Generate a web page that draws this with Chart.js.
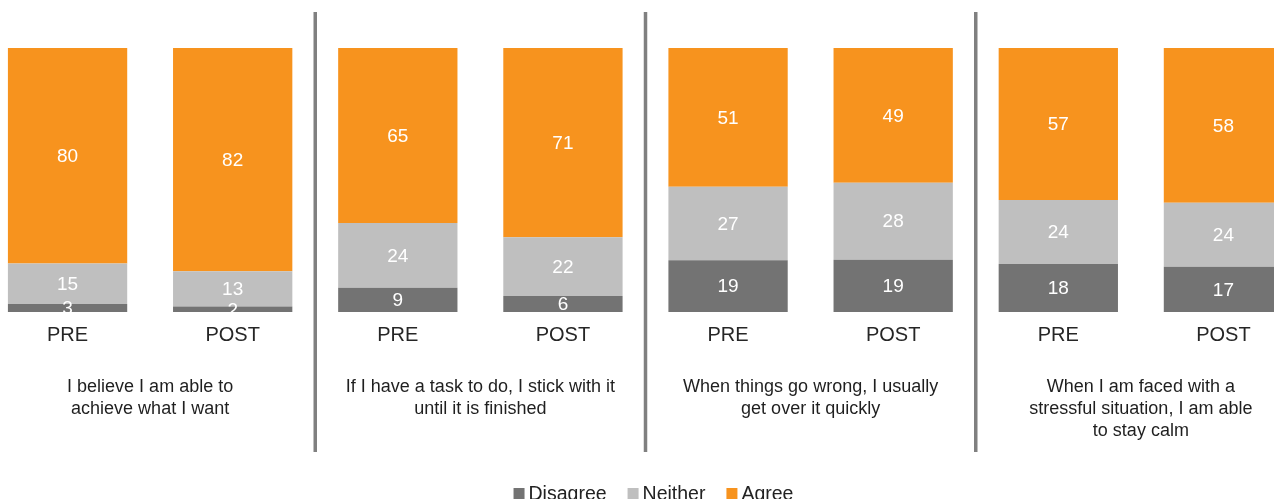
<!DOCTYPE html>
<html>
<head>
<meta charset="utf-8">
<script src="https://cdn.jsdelivr.net/npm/chart.js@4/dist/chart.umd.min.js"></script>
<style>
  html, body { margin: 0; padding: 0; background: #ffffff; overflow: hidden; width: 1274px; height: 499px; }
  #wrap { position: absolute; left: -15px; top: 0; width: 1321px; height: 512px; }
</style>
</head>
<body>
<div id="wrap"><canvas id="c"></canvas></div>
<script>
// ---- data ----
const categories = ['PRE', 'POST', 'PRE', 'POST', 'PRE', 'POST', 'PRE', 'POST'];
const groupLabels = [
  ['I believe I am able to', 'achieve what I want'],
  ['If I have a task to do, I stick with it', 'until it is finished'],
  ['When things go wrong, I usually', 'get over it quickly'],
  ['When I am faced with a', 'stressful situation, I am able', 'to stay calm']
];
const seriesNames = ['Disagree', 'Neither', 'Agree'];
const disagree = [3, 2, 9, 6, 19, 19, 18, 17];
const neither  = [15, 13, 24, 22, 27, 28, 24, 24];
const agree    = [80, 82, 65, 71, 51, 49, 57, 58];
const seriesColors = ['#737373', '#bfbfbf', '#f7931e'];

const FONT = '"Liberation Sans", Arial, sans-serif';
const raw = [disagree, neither, agree];
const totals = categories.map((_, i) => disagree[i] + neither[i] + agree[i]);
const pct = raw.map(arr => arr.map((v, i) => v / totals[i] * 100));

const datasets = raw.map((arr, k) => ({
  label: seriesNames[k],
  data: pct[k],
  rawValues: arr,
  backgroundColor: seriesColors[k],
  borderWidth: 0,
  categoryPercentage: 1,
  barPercentage: 0.7225
}));

const extrasPlugin = {
  id: 'extras',
  afterDatasetsDraw(chart) {
    const ctx = chart.ctx;
    ctx.save();
    ctx.fillStyle = '#ffffff';
    ctx.font = '19px ' + FONT;
    ctx.textAlign = 'center';
    ctx.textBaseline = 'middle';
    chart.data.datasets.forEach((ds, di) => {
      const meta = chart.getDatasetMeta(di);
      meta.data.forEach((el, i) => {
        const y = (el.y + el.base) / 2;
        ctx.fillText(String(ds.rawValues[i]), el.x, y + 1);
      });
    });
    ctx.restore();
  },
  afterDraw(chart) {
    const ctx = chart.ctx;
    const xs = chart.scales.x;
    ctx.save();
    // dividers between question groups
    ctx.strokeStyle = '#808080';
    ctx.lineWidth = 3.5;
    for (let g = 1; g < groupLabels.length; g++) {
      const x = (xs.getPixelForValue(2 * g - 1) + xs.getPixelForValue(2 * g)) / 2;
      ctx.beginPath();
      ctx.moveTo(x, 12);
      ctx.lineTo(x, 452);
      ctx.stroke();
    }
    // group labels
    ctx.fillStyle = '#1f1f1f';
    ctx.font = '18px ' + FONT;
    ctx.textAlign = 'center';
    ctx.textBaseline = 'middle';
    groupLabels.forEach((lines, g) => {
      const cx = (xs.getPixelForValue(2 * g) + xs.getPixelForValue(2 * g + 1)) / 2;
      lines.forEach((t, li) => ctx.fillText(t, cx, 387 + li * 22));
    });
    // legend
    ctx.font = '19.5px ' + FONT;
    ctx.textAlign = 'left';
    ctx.textBaseline = 'alphabetic';
    const box = 11, gapText = 4, gapItem = 21;
    const widths = seriesNames.map(n => box + gapText + ctx.measureText(n).width);
    const total = widths.reduce((a, b) => a + b, 0) + gapItem * (seriesNames.length - 1);
    const centerX = chart.width / 2 + 8;
    let x = centerX - total / 2;
    const baseY = 499.5;
    seriesNames.forEach((n, k) => {
      ctx.fillStyle = seriesColors[k];
      ctx.fillRect(x, 488, box, box);
      ctx.fillStyle = '#222222';
      ctx.fillText(n, x + box + gapText, baseY);
      x += widths[k] + gapItem;
    });
    ctx.restore();
  }
};

new Chart(document.getElementById('c'), {
  type: 'bar',
  data: { labels: categories, datasets },
  options: {
    responsive: true,
    maintainAspectRatio: false,
    animation: false,
    layout: { padding: { top: 48, left: 0, right: 0, bottom: 0 } },
    plugins: {
      legend: { display: false },
      tooltip: { enabled: false }
    },
    scales: {
      x: {
        stacked: true,
        grid: { display: false, drawTicks: false },
        border: { display: false },
        ticks: { color: '#262626', font: { size: 20, family: FONT }, padding: 11 },
        afterFit(scale) { scale.height = 200; }
      },
      y: {
        stacked: true,
        display: false,
        min: 0,
        max: 100
      }
    }
  },
  plugins: [extrasPlugin]
});
</script>
</body>
</html>
